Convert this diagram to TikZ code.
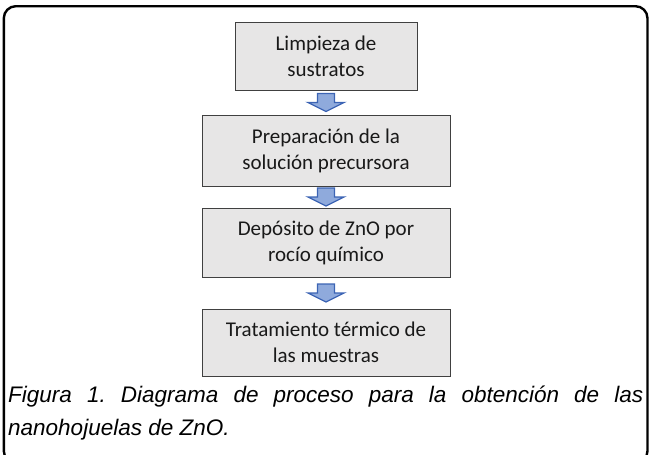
\documentclass[tikz,border=0pt]{standalone}
\usepackage{fontspec}
\setmainfont{Carlito}
\newfontfamily\capfont{Liberation Sans}
\usetikzlibrary{calc}
\definecolor{boxfill}{RGB}{231,230,230}
\definecolor{boxline}{RGB}{64,64,64}
\definecolor{arrfill}{RGB}{143,170,220}
\definecolor{arrline}{RGB}{60,100,180}
\frenchspacing
\begin{document}
\begin{tikzpicture}[x=1pt,y=-1pt,
  stepbox/.style={draw=boxline, line width=1pt, fill=boxfill, align=center,
    font=\fontsize{21}{26}\selectfont, text=black!90, inner sep=0pt},
  blockarrow/.style={draw=arrline, fill=arrfill, line width=1.3pt, line join=miter},
  captext/.style={anchor=base west, inner sep=0pt, font=\capfont\itshape\fontsize{22.5}{33}\selectfont}]
\useasboundingbox (0,0) rectangle (651,455);
\clip (0,0) rectangle (651,455);
\draw[line width=2.4pt, rounded corners=12pt] (3.8,6.2) rectangle (647.5,463);

\node[stepbox, minimum width=182pt, minimum height=68pt] (b1) at (326,56) {Limpieza de\\sustratos};
\node[stepbox, minimum width=248pt, minimum height=71pt] (b2) at (326,150.5) {Preparación de la\\solución precursora};
\node[stepbox, minimum width=248pt, minimum height=69pt] (b3) at (326,242.5) {Depósito de ZnO por\\rocío químico};
\node[stepbox, minimum width=248pt, minimum height=67pt] (b4) at (326,342.5) {Tratamiento térmico de\\las muestras};

\coordinate (a1) at ($(b1.south)!0.5!(b2.north)$);
\coordinate (a2) at ($(b2.south)!0.5!(b3.north)$);
\coordinate (a3) at ($(b3.south)!0.5!(b4.north)$);
\foreach \a in {a1,a2,a3}{
  \draw[blockarrow, shift={(\a)}] (-8.5,-9) -- (8.5,-9) -- (8.5,0) -- (18,0) -- (0,9) -- (-18,0) -- (-8.5,0) -- cycle;
}

\node[captext] (c1) at (8,402) {\makebox[635pt][s]{Figura 1. Diagrama de proceso para la obtención de las}};
\node[captext] (c2) at (8,435) {nanohojuelas de ZnO.};
\end{tikzpicture}
\end{document}
